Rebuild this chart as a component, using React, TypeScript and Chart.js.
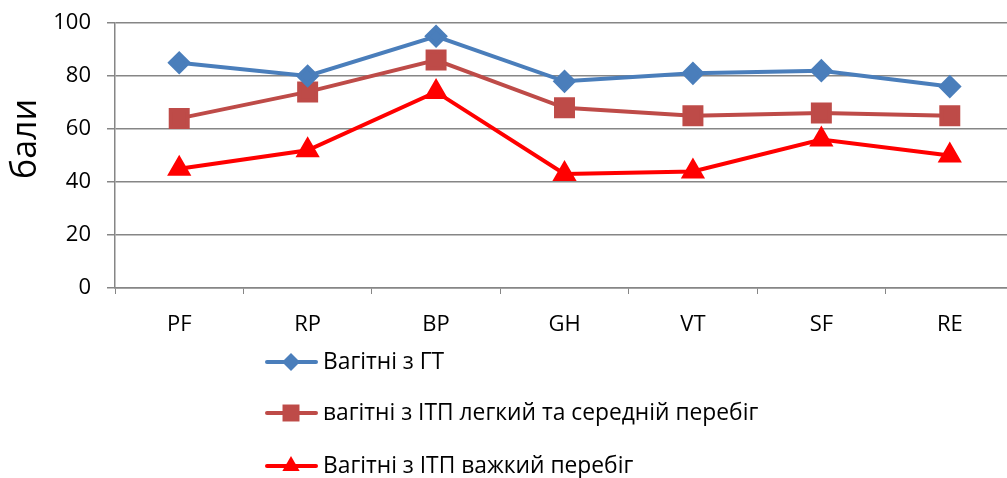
import React, { useEffect, useRef } from "react";
import { Chart, registerables } from "chart.js";

Chart.register(...registerables);

const categories = ["PF", "RP", "BP", "GH", "VT", "SF", "RE"];
const seriesNames = [
  "Вагітні з ГТ",
  "вагітні з ІТП легкий та середній перебіг",
  "Вагітні з ІТП важкий перебіг",
];
const gtValues = [85, 80, 95, 78, 81, 82, 76];
const mildValues = [64, 74, 86, 68, 65, 66, 65];
const severeValues = [45, 52, 74, 43, 44, 56, 50];
const yTicks = [0, 20, 40, 60, 80, 100];
const yTitle = "бали";

const FONT = "'Open Sans', 'Noto Sans', sans-serif";

function drawPt(ctx: any, style: string, r: number, x: number, y: number) {
  ctx.beginPath();
  if (style === "rectRot") {
    ctx.moveTo(x, y - r);
    ctx.lineTo(x + r, y);
    ctx.lineTo(x, y + r);
    ctx.lineTo(x - r, y);
  } else if (style === "rect") {
    const s = r * Math.SQRT1_2;
    ctx.rect(x - s, y - s, 2 * s, 2 * s);
  } else {
    const a = r * 0.866;
    ctx.moveTo(x, y - r);
    ctx.lineTo(x + a, y + r / 2);
    ctx.lineTo(x - a, y + r / 2);
  }
  ctx.closePath();
  ctx.fill();
}

const legendPlugin = {
  id: "vertLegend",
  afterDraw(chart: any) {
    const ctx = chart.ctx;
    const rows = [362, 413, 466];
    chart.data.datasets.forEach((ds: any, i: number) => {
      const y = rows[i];
      ctx.save();
      ctx.strokeStyle = ds.borderColor;
      ctx.lineWidth = 4;
      ctx.lineCap = "round";
      ctx.beginPath();
      ctx.moveTo(267, y);
      ctx.lineTo(316, y);
      ctx.stroke();
      ctx.fillStyle = ds.pointBackgroundColor;
      drawPt(ctx, ds.pointStyle, ds.pointRadius, 291, y);
      ctx.fillStyle = "#000";
      ctx.font = `22.8px ${FONT}`;
      ctx.textBaseline = "middle";
      ctx.textAlign = "left";
      ctx.fillText(ds.label, 323, y + 1);
      ctx.restore();
    });
    // y axis title
    ctx.save();
    ctx.translate(26, 139);
    ctx.rotate(-Math.PI / 2);
    ctx.fillStyle = "#000";
    ctx.font = `34px ${FONT}`;
    ctx.textAlign = "center";
    ctx.textBaseline = "middle";
    ctx.fillText(yTitle, 0, 0);
    ctx.restore();
  },
};

export default function App() {
  const ref = useRef<HTMLCanvasElement>(null);
  useEffect(() => {
    if (!ref.current) return;
    const mk = (label: string, data: number[], color: string, style: string, r: number) => ({
      label,
      data,
      borderColor: color,
      backgroundColor: color,
      pointBackgroundColor: color,
      pointBorderColor: color,
      pointStyle: style,
      pointRadius: r,
      pointHoverRadius: r,
      borderWidth: 4,
      tension: 0,
    });
    const chart = new Chart(ref.current, {
      type: "line",
      data: {
        labels: categories,
        datasets: [
          mk(seriesNames[0], gtValues, "#4A7EBB", "rectRot", 9),
          mk(seriesNames[1], mildValues, "#BE4B48", "rect", 12),
          mk(seriesNames[2], severeValues, "#FF0000", "triangle", 10),
        ],
      },
      options: {
        animation: false,
        responsive: false,
        maintainAspectRatio: false,
        layout: { padding: { top: 23, bottom: 120, right: 12, left: 0 } },
        plugins: { legend: { display: false }, tooltip: { enabled: false } },
        scales: {
          x: {
            type: "category",
            offset: true,
            grid: {
              offset: true,
              drawOnChartArea: false,
              drawTicks: true,
              tickLength: 6,
              color: "#868686",
            },
            border: { color: "#868686", width: 1.5 },
            ticks: {
              color: "#000",
              font: { family: FONT, size: 22 },
              padding: 18,
              maxRotation: 0,
            },
            afterFit: (s: any) => {
              s.height = 70;
              s.paddingLeft = 0;
              s.paddingRight = 0;
            },
          },
          y: {
            min: 0,
            max: 100,
            afterBuildTicks: (s: any) => {
              s.ticks = yTicks.map((v) => ({ value: v }));
            },
            grid: { color: "#868686", lineWidth: 1.5, tickLength: 8 },
            border: { color: "#868686", width: 1.5 },
            ticks: {
              color: "#000",
              font: { family: FONT, size: 22 },
              padding: 16,
            },
            afterFit: (s: any) => {
              s.width = 115;
              s.paddingTop = 0;
              s.paddingBottom = 0;
            },
          },
        },
      },
      plugins: [legendPlugin],
    });
    return () => chart.destroy();
  }, []);
  return (
    <div
      style={{
        position: "absolute",
        left: 0,
        top: 0,
        width: 1007,
        height: 478,
        overflow: "hidden",
        background: "#fff",
      }}
    >
      <canvas ref={ref} width={1030} height={478} style={{ width: 1030, height: 478, display: "block" }} />
    </div>
  );
}
